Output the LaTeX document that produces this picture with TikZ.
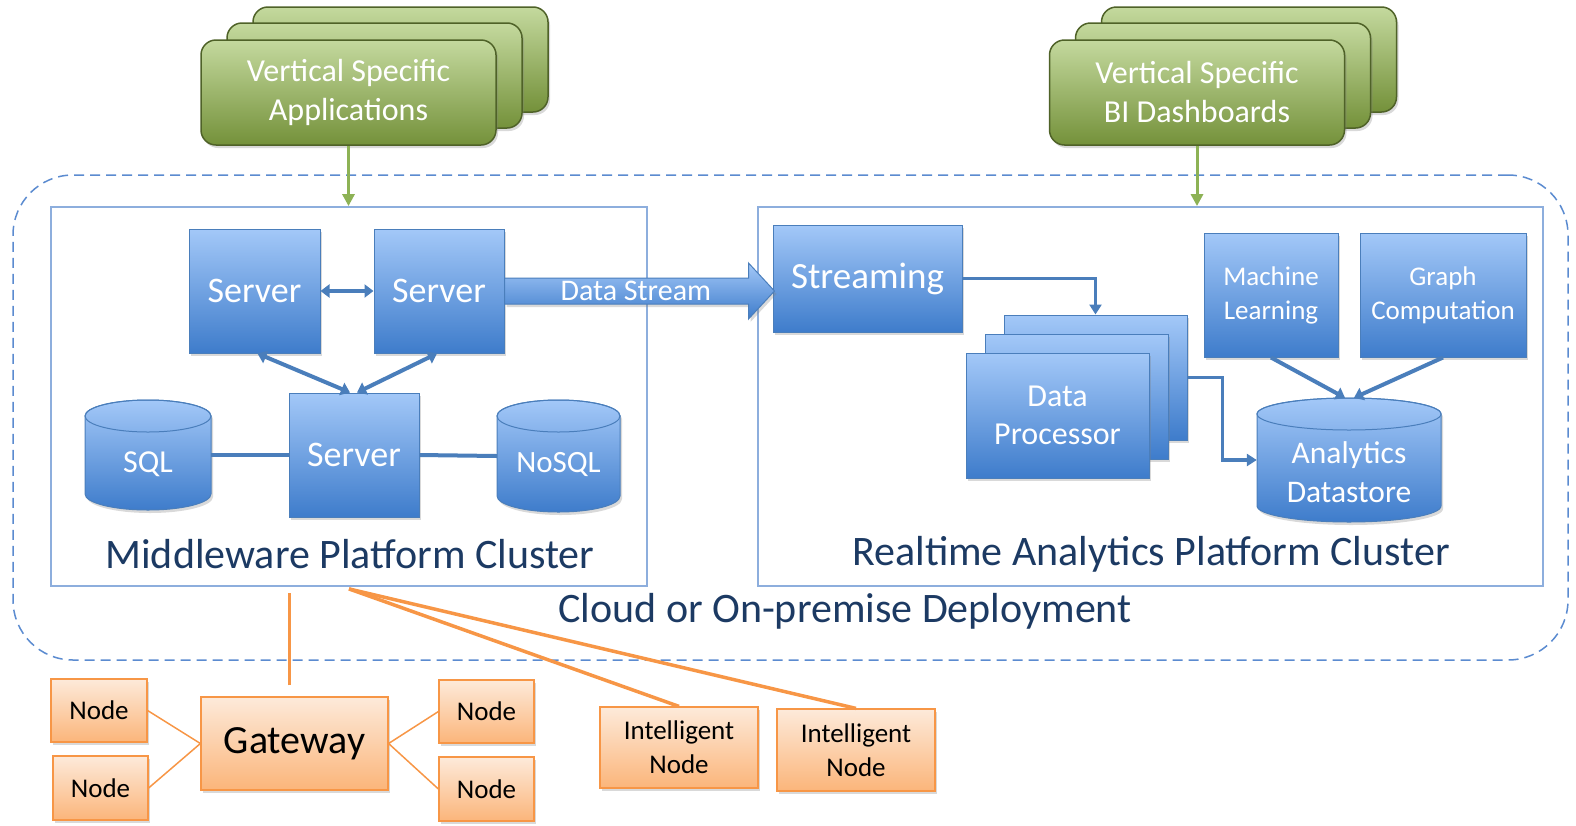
\documentclass[tikz,border=0pt]{standalone}
\usepackage{fontspec}
\setmainfont{Carlito}
\usetikzlibrary{arrows.meta,calc,shadows}
\definecolor{bluetop}{HTML}{A3C8F8}
\definecolor{bluebot}{HTML}{3E7CCB}
\definecolor{bluebd}{HTML}{4A7EBB}
\definecolor{blueline}{HTML}{4A7EBB}
\definecolor{clusterbd}{HTML}{8DAEDD}
\definecolor{dashbl}{HTML}{5B8BD0}
\definecolor{navy}{HTML}{1C3A63}
\definecolor{greentop}{HTML}{C4D99E}
\definecolor{greenbot}{HTML}{74913A}
\definecolor{greenbd}{HTML}{4F6228}
\definecolor{greenarr}{HTML}{8DB255}
\definecolor{ortop}{HTML}{FDEADA}
\definecolor{orbot}{HTML}{FBB57A}
\definecolor{orbd}{HTML}{F79646}
\tikzset{
  shad/.style={drop shadow={shadow xshift=2pt,shadow yshift=-3pt,opacity=0.3}},
  bluebox/.style={draw=bluebd,line width=1pt,top color=bluetop,bottom color=bluebot,text=white,align=center,inner sep=0pt,shad},
  cylfill/.style={draw=bluebd,line width=1pt,top color=bluetop,bottom color=bluebot,shad},
  cyledge/.style={draw=bluebd,line width=1pt},
  greenbox/.style={draw=greenbd,line width=1.5pt,rounded corners=15pt,top color=greentop,bottom color=greenbot,text=white,align=center,inner sep=0pt,shad,minimum width=295pt,minimum height=105pt,font=\fontsize{32}{39}\selectfont},
  orbox/.style={draw=orbd,line width=1.2pt,top color=ortop,bottom color=orbot,text=black,align=center,inner sep=0pt,shad},
  cluster/.style={draw=clusterbd,line width=1.8pt,inner sep=0pt},
  title/.style={text=navy,font=\fontsize{42}{48}\selectfont},
  bconn/.style={draw=blueline,line width=4pt},
  bthin/.style={draw=blueline,line width=3.5pt},
  dblarr/.style={bconn,{Triangle[width=13pt,length=9pt]}-{Triangle[width=13pt,length=9pt]}},
  sarr/.style={bconn,-{Triangle[width=13pt,length=9pt]}},
  tarr/.style={bthin,-{Triangle[width=12pt,length=10pt]}},
  garr/.style={draw=greenarr,line width=3pt,-{Triangle[width=12pt,length=12pt]}},
  othick/.style={draw=orbd,line width=3.5pt},
  othin/.style={draw=orbd,line width=1.5pt},
}
\newcommand\mycyl[5]{%
  \path[cylfill] (#1-#4,#2+16) -- (#1-#4,#3-16) arc (180:0:#4 and 16) -- (#1+#4,#2+16) arc (0:-180:#4 and 16) -- cycle;
  \draw[cyledge] (#1,#2+16) ellipse (#4 and 16);
  \node[inner sep=0pt,minimum width=2*#4,minimum height=#3-#2] (#5) at (#1,{(#2+#3)/2}) {};
}
\begin{document}
\begin{tikzpicture}[x=1pt,y=-1pt]
\useasboundingbox (0,0) rectangle (1576,825);

% outer dashed deployment area
\node[draw=dashbl,dashed,dash pattern=on 10pt off 6pt,line width=1.5pt,rounded corners=60pt,minimum width=1555pt,minimum height=485pt,inner sep=0pt] (cloud) at (790.5,417.5) {};
\node[title] (cloudt) at (845,611) {Cloud or On-premise Deployment};

% clusters
\node[cluster,minimum width=596pt,minimum height=379pt] (lcl) at (349,396.5) {};
\node[cluster,minimum width=785pt,minimum height=379pt] (rcl) at (1150.5,396.5) {};
\node[title] (ltitle) at (350,554) {Middleware Platform Cluster};
\node[title] (rtitle) at (1151,554) {Realtime Analytics Platform Cluster};

% green stacks
\node[greenbox] (va3) at (400.5,59.5) {};
\node[greenbox] (va2) at (374.5,75.5) {};
\node[greenbox] (va1) at (348.5,92.5) {Vertical Specific\\Applications};
\node[greenbox] (vb3) at (1249,59.5) {};
\node[greenbox] (vb2) at (1223,75.5) {};
\node[greenbox] (vb1) at (1197,92.5) {Vertical Specific\\BI Dashboards};
\draw[garr] (va1.south) -- (va1.south |- lcl.north);
\draw[garr] (vb1.south) -- (vb1.south |- rcl.north);

% middleware cluster
\node[bluebox,minimum width=131pt,minimum height=124pt,font=\fontsize{36}{42}\selectfont] (s1) at (254.5,291) {Server};
\node[bluebox,minimum width=130pt,minimum height=124pt,font=\fontsize{36}{42}\selectfont] (s2) at (439,291) {Server};
\node[bluebox,minimum width=130pt,minimum height=124pt,font=\fontsize{36}{42}\selectfont] (s3) at (354,455) {Server};
\mycyl{148}{400}{510}{63}{sql}
\mycyl{558.5}{400}{512}{61.5}{nosql}
\node[text=white,font=\fontsize{32}{38}\selectfont] (sqlt) at (148,464) {SQL};
\node[text=white,font=\fontsize{31}{38}\selectfont] (nosqlt) at (558.5,464) {NoSQL};
\draw[dblarr] (s1) -- (s2);
\draw[dblarr] ([xshift=3pt]s1.south) -- ([xshift=-4pt]s3.north);
\draw[dblarr] ([xshift=-2pt]s2.south) -- ([xshift=3pt]s3.north);
\draw[bconn] (sql.east) -- (s3.west);
\draw[bconn] (s3.east) -- (nosql.west);

% realtime cluster
\node[bluebox,minimum width=189pt,minimum height=107pt,font=\fontsize{37}{42}\selectfont] (stream) at (867.5,278.5) {Streaming};
\node[bluebox,minimum width=183pt,minimum height=125pt] (dp3) at (1095.5,377.5) {};
\node[bluebox,minimum width=183pt,minimum height=125pt] (dp2) at (1076.5,396.5) {};
\node[bluebox,minimum width=183pt,minimum height=125pt,font=\fontsize{32}{38}\selectfont] (dp1) at (1057.5,415.5) {Data\\Processor};
\node[bluebox,minimum width=134pt,minimum height=124pt,font=\fontsize{27}{34}\selectfont] (ml) at (1271,295) {Machine\\Learning};
\node[bluebox,minimum width=166pt,minimum height=124pt,font=\fontsize{27}{34}\selectfont] (gc) at (1443,295) {Graph\\Computation};
\mycyl{1349}{398}{522}{92}{ads}
\node[text=white,align=center,font=\fontsize{31.5}{39}\selectfont] (adst) at (1349,472) {Analytics\\Datastore};
\draw[tarr] (stream.east) -| (dp3.north);
\draw[tarr] (dp3.east) -- ++(35,0) |- (ads.west);
\draw[sarr] (ml.south) -- ([xshift=-4pt]ads.north);
\draw[sarr] (gc.south) -- ([xshift=5pt]ads.north);

% data stream block arrow
\coordinate (dsA) at (s2.east);
\coordinate (dsB) at (s2.east -| stream.west);
\path[draw=bluebd,line width=1pt,top color=bluetop,bottom color=bluebot,shad]
  ($(dsA)+(0,-13)$) -- ($(dsB)+(-24,-13)$) -- ($(dsB)+(-24,-28)$) -- ($(dsB)+(2,0)$)
  -- ($(dsB)+(-24,28)$) -- ($(dsB)+(-24,13)$) -- ($(dsA)+(0,13)$) -- cycle;
\node[text=white,font=\fontsize{30}{34}\selectfont] (dst) at ($(dsA)!0.49!(dsB)$) {Data Stream};

% devices
\node[orbox,minimum width=187pt,minimum height=93pt,font=\fontsize{40}{46}\selectfont] (gw) at (294.5,743.5) {Gateway};
\node[orbox,minimum width=96pt,minimum height=63pt,font=\fontsize{27}{32}\selectfont] (n1) at (99,710.5) {Node};
\node[orbox,minimum width=95pt,minimum height=64pt,font=\fontsize{27}{32}\selectfont] (n2) at (100.5,788) {Node};
\node[orbox,minimum width=95pt,minimum height=63pt,font=\fontsize{27}{32}\selectfont] (n3) at (486.5,711.5) {Node};
\node[orbox,minimum width=95pt,minimum height=64pt,font=\fontsize{27}{32}\selectfont] (n4) at (486.5,789) {Node};
\node[orbox,minimum width=158pt,minimum height=81pt,font=\fontsize{27}{34}\selectfont] (in1) at (679,747.5) {Intelligent\\Node};
\node[orbox,minimum width=158pt,minimum height=82pt,font=\fontsize{27}{34}\selectfont] (in2) at (856,750) {Intelligent\\Node};
\draw[othin] (gw.west) -- (n1.east);
\draw[othin] (gw.west) -- (n2.east);
\draw[othin] (gw.east) -- (n3.west);
\draw[othin] (gw.east) -- (n4.west);
\draw[othick] ($(gw.north)+(-5,-11)$) -- ($(gw.north |- lcl.south)+(-5,6)$);
\draw[othick] ($(lcl.south)+(0,2)$) -- (in1.north);
\draw[othick] ($(lcl.south)+(0,2)$) -- (in2.north);
\end{tikzpicture}
\end{document}
